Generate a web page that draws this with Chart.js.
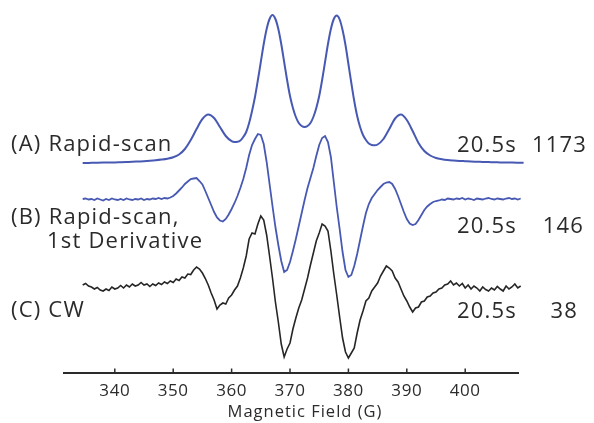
<!DOCTYPE html>
<html>
<head>
<meta charset="utf-8">
<script src="https://cdn.jsdelivr.net/npm/chart.js@4.4.0/dist/chart.umd.min.js"></script>
<style>
  html, body { margin: 0; padding: 0; background: #ffffff; }
  #wrap { width: 594px; height: 423px; position: relative; }
</style>
</head>
<body>
<div id="wrap"><canvas id="c" width="594" height="423"></canvas></div>
<script>
// ---------------- DATA ----------------
// Magnetic field (G) sample positions for trace A
const fieldA = [
  334.5,335,336,337,338,339,340,341,342,343,
  344,345,346,347,348,349,350,351,352,353,
  354,355,356,357,358,359,360,360.5,361,361.5,
  362,362.5,363,363.5,364,364.5,365,365.5,366,366.5,
  367,367.5,368,368.5,369,369.5,370,370.5,371,371.5,
  372,372.5,373,373.5,374,374.5,375,375.5,376,376.5,
  377,377.5,378,378.5,379,379.5,380,380.5,381,381.5,
  382,382.5,383,383.5,384,384.5,385,386,387,388,
  389,390,391,392,393,394,395,396,397,398,
  399,400,401,402,403,404,405,406,407,408,
  409,410,411,412
];
// (A) Rapid-scan absorption (relative to its baseline)
const rapidScan = [
  0,0,0.2,0.3,0.4,0.5,0.6,0.8,1.0,1.2,
  1.5,1.8,2.2,2.7,3.4,4.3,5.7,8.5,14,23,
  34,44,48.5,45,36,27,21.8,21,21.2,22.5,
  26,31,40,52,66,83,101,119,134,144,
  148,144,134,119,101,83,67,55,46,40,
  37,36,37,40,46,55,67,83,101,119,
  134,144,147.5,143.5,133,118,99,80,62,47,
  36,28,23,19.5,18,17.8,18.5,24,34,44.5,
  48.5,43,32,20,12,7.5,5,3.8,3,2.5,
  2.1,1.8,1.5,1.3,1.1,0.9,0.8,0.6,0.5,0.4,
  0.3,0.2,0.1,0
];
// Magnetic field (G) sample positions for traces B and C
const fieldBC = [
  334.5,335,335.5,336,336.5,337,337.5,338,338.5,339,
  339.5,340,340.5,341,341.5,342,342.5,343,343.5,344,
  344.5,345,345.5,346,346.5,347,347.5,348,348.5,349,
  349.5,350,350.5,351,351.5,352,352.5,353,353.5,354,
  354.5,355,355.5,356,356.5,357,357.5,358,358.5,359,
  359.5,360,360.5,361,361.5,362,362.5,363,363.5,364,
  364.5,365,365.5,366,366.5,367,367.5,368,368.5,369,
  369.5,370,370.5,371,371.5,372,372.5,373,373.5,374,
  374.5,375,375.5,376,376.5,377,377.5,378,378.5,379,
  379.5,380,380.5,381,381.5,382,382.5,383,383.5,384,
  384.5,385,385.5,386,386.5,387,387.5,388,388.5,389,
  389.5,390,390.5,391,391.5,392,392.5,393,393.5,394,
  394.5,395,395.5,396,396.5,397,397.5,398,398.5,399,
  399.5,400,400.5,401,401.5,402,402.5,403,403.5,404,
  404.5,405,405.5,406,406.5,407,407.5,408,408.5,409,
  409.5,410,410.5,411,411.5,412
];
// (B) Rapid-scan, 1st derivative
const rapidScanDeriv = [
  0,0.5,-0.5,0,-1,0.5,-0.5,-1.5,0,-1,
  0.5,-0.5,-1,0,-1,0.5,-0.5,-1,0,-0.5,
  0.5,-1,0,-0.5,0.5,0,1,0,1,0.5,
  1.5,3,5.5,8.5,11.5,15,17.5,20,20.5,21,
  18,14.5,8,1,-6,-13,-18.5,-21.5,-22.5,-20,
  -15.5,-10,-4,3,11,20,31,44,54,60,
  65,64,55,37,15,-7,-28,-46,-62,-73,
  -71,-63,-52,-40,-27,-14,-1,11,21,31,
  43,54,61,63,57,42,17,-8,-30,-53,
  -71,-78,-76,-67,-55,-41,-27,-14,-5,1,
  5,9,12,15,16.5,17,15,10,3,-5,
  -13,-20,-24.5,-26,-25,-21,-16,-11,-7.5,-5,
  -3,-2,-1.5,-0.5,-1,0.5,0,-0.5,0.5,0,
  1,-0.5,0.5,0,-1,0.5,0,-0.5,0.5,1,
  0,-0.5,0.5,0,-0.5,0.5,1,0,0.5,-0.5,
  0.5,0,1,0,0.5,0
];
// (C) CW
const cwSpectrum = [
  2,3.5,1,0,-2,-0.5,-3,-4,-2,-3.5,
  0,-2,-1,1.5,-1,2,0,3,1,2,
  4.5,2,3,0.5,3,1.5,4,2.5,5,3.5,
  6,4.5,8,6.5,10,9,13,12.5,17,20,
  18,14,8.5,2,-6,-13,-22,-18,-16,-17,
  -11,-8,-3,1,9,19,31,48,54,53,
  63,71,67,52,31,9,-15,-35,-57,-70,
  -62,-56,-42,-31,-21,-13,-2,9,22,34,
  46,54,63,61,56,36,13,-8,-30,-51,
  -65,-71,-66,-61,-46,-33,-24,-14,-11,-4,
  0,4,11,16,21,19,16,9,5,-2,
  -9,-14,-20,-25,-21,-20,-15,-14,-10,-9,
  -6,-5,-2,-1,2,3,6,2,4,1,
  3.5,-1,2,-2,1,-1,-4,0,-2.5,-4,
  -1,-3,0.5,-2,-4,1,-2,0,3,-1,
  1,2,0,1.5,-2,-1
];
// vertical stacking offset of each trace (data units)
const traceOffsets = [210, 174, 86];
const traceNames = [["(A) Rapid-scan"], ["(B) Rapid-scan,", "1st Derivative"], ["(C) CW"]];
const scanTimes = ["20.5s", "20.5s", "20.5s"];
const snrValues = ["1173", "146", "38"];
const tickValues = [340, 350, 360, 370, 380, 390, 400];
const axisTitle = "Magnetic Field (G)";

// ---------------- LAYOUT / STYLE ----------------
const TEXT = '#2b2b2b';
const BLUE = '#4759b3';
const BLACK = '#262626';
const labelLayout = {
  names: [[[11, 151]], [[11, 224], [47, 248]], [[11, 317]]],
  times: [[457, 152], [457, 233], [457, 318]],
  snr: [[587, 152], [584, 233], [578, 318]],
  title: [305, 417]
};

function toPoints(xs, ys, off) {
  return xs.map((x, i) => ({ x: x, y: ys[i] + off }));
}

const overlay = {
  id: 'overlay',
  beforeDraw(chart) { chart.ctx.letterSpacing = '0.6px'; },
  afterDraw(chart) {
    const ctx = chart.ctx;
    const xs = chart.scales.x;
    ctx.save();
    // inward tick marks
    ctx.strokeStyle = TEXT;
    ctx.lineWidth = 1.5;
    xs.ticks.forEach(t => {
      const px = xs.getPixelForValue(t.value);
      ctx.beginPath();
      ctx.moveTo(px, xs.top + 1);
      ctx.lineTo(px, xs.top - 4.5);
      ctx.stroke();
    });
    ctx.fillStyle = TEXT;
    ctx.textBaseline = 'alphabetic';
    // axis title
    ctx.font = '16.5px "Open Sans"';
    ctx.letterSpacing = '1px';
    ctx.textAlign = 'center';
    ctx.fillText(axisTitle, labelLayout.title[0], labelLayout.title[1]);
    // annotation texts
    ctx.font = '22px "Open Sans"';
    ctx.letterSpacing = '1.2px';
    ctx.textAlign = 'left';
    traceNames.forEach((lines, i) => {
      lines.forEach((ln, j) => {
        const p = labelLayout.names[i][j];
        ctx.fillText(ln, p[0], p[1]);
      });
    });
    scanTimes.forEach((t, i) => {
      const p = labelLayout.times[i];
      ctx.fillText(t, p[0], p[1]);
    });
    ctx.textAlign = 'right';
    snrValues.forEach((t, i) => {
      const p = labelLayout.snr[i];
      ctx.fillText(t, p[0], p[1]);
    });
    ctx.restore();
  }
};

new Chart(document.getElementById('c'), {
  type: 'line',
  data: {
    datasets: [
      { label: traceNames[0].join(' '), data: toPoints(fieldA, rapidScan, traceOffsets[0]),
        borderColor: BLUE, borderWidth: 2, cubicInterpolationMode: 'monotone', clip: false },
      { label: traceNames[1].join(' '), data: toPoints(fieldBC, rapidScanDeriv, traceOffsets[1]),
        borderColor: BLUE, borderWidth: 1.8, tension: 0, clip: false },
      { label: traceNames[2].join(' '), data: toPoints(fieldBC, cwSpectrum, traceOffsets[2]),
        borderColor: BLACK, borderWidth: 1.6, tension: 0, clip: false }
    ]
  },
  options: {
    responsive: false,
    animation: false,
    devicePixelRatio: 1,
    layout: { padding: { left: 64, right: 76, top: 5, bottom: 0 } },
    elements: { point: { radius: 0 }, line: { fill: false } },
    plugins: { legend: { display: false }, tooltip: { enabled: false } },
    scales: {
      x: {
        type: 'linear',
        min: 331.3,
        max: 409.04,
        afterBuildTicks: s => { s.ticks = tickValues.map(v => ({ value: v })); },
        afterFit: s => { s.height = 50; },
        grid: { display: false },
        border: { display: true, color: TEXT, width: 2 },
        ticks: {
          color: TEXT, padding: 0, maxRotation: 0, autoSkip: false,
          font: { family: 'Open Sans', size: 17 },
          callback: v => String(v)
        },
        title: { display: false, text: axisTitle }
      },
      y: { display: false, min: 0, max: 368 }
    }
  },
  plugins: [overlay]
});
</script>
</body>
</html>
